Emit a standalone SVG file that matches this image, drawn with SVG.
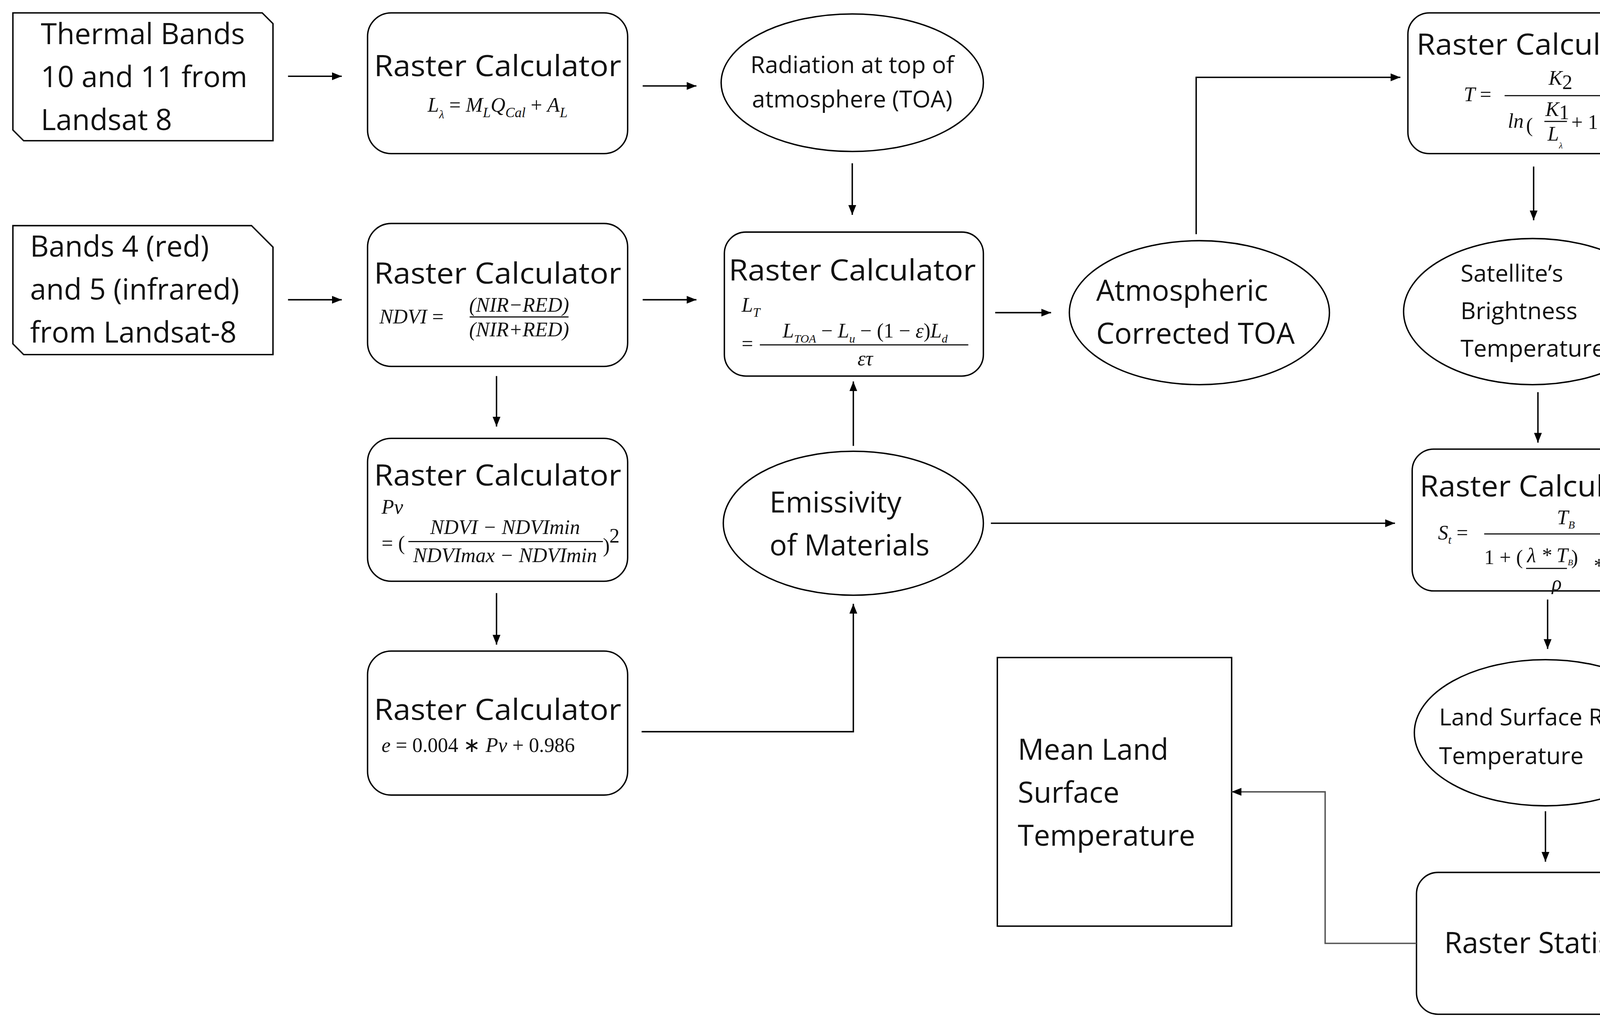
<svg xmlns="http://www.w3.org/2000/svg" width="4314" height="2624" viewBox="0 0 4314 2624">
<style>
.n{fill:#fff;stroke:#000;stroke-width:1.3}
.t{font-family:"Open Sans","Liberation Sans",sans-serif;font-size:27px;fill:#111}
.s{font-family:"Open Sans","Liberation Sans",sans-serif;font-size:22px;fill:#111}
.m{font-family:"Liberation Serif",serif;font-style:italic;font-size:19px;fill:#111}
.mr{font-family:"Liberation Serif",serif;font-style:normal;font-size:19px;fill:#111}
.c{fill:none;stroke:#000;stroke-width:1.3}
.c2{fill:none;stroke:#555;stroke-width:1.3}
.f{stroke:#000;stroke-width:1}
</style>
<defs>
<marker id="a" viewBox="0 0 10 10" refX="10" refY="5" markerWidth="7" markerHeight="7" orient="auto"><path d="M0,1 L10,5 L0,9 Z" fill="#000"/></marker>
</defs>
<rect width="4314" height="2624" fill="#fff"/>
<g transform="scale(2.7513,2.7505)">
<g id="thermal"><path class="n" d="M12,12 H244 L254,22 V131 H22 L12,121 Z"/>
<text class="t" x="38" y="41">Thermal Bands</text><text class="t" x="38" y="81">10 and 11 from</text><text class="t" x="38" y="121">Landsat 8</text></g>
<g id="bands45"><path class="n" d="M12,210 H234 L254,230 V330 H22 L12,320 Z"/>
<text class="t" x="28" y="239">Bands 4 (red)</text><text class="t" x="28" y="279">and 5 (infrared)</text><text class="t" x="28" y="319">from Landsat-8</text></g>
<g id="rc1"><rect class="n" x="342" y="12" width="242" height="131" rx="22"/>
<text class="t" x="463" y="71" text-anchor="middle" textLength="230" lengthAdjust="spacingAndGlyphs">Raster Calculator</text>
<text class="m" x="463" y="104" text-anchor="middle">L<tspan font-size="11" dy="6">λ</tspan><tspan class="mr" dy="-6"> = </tspan>M<tspan font-size="13" dy="5">L</tspan><tspan dy="-5">Q</tspan><tspan font-size="13" dy="5">Cal</tspan><tspan class="mr" dy="-5"> + </tspan>A<tspan font-size="13" dy="5">L</tspan></text></g>
<g id="radiation"><ellipse class="n" cx="793" cy="77" rx="122" ry="64"/>
<text class="s" x="793" y="68" text-anchor="middle">Radiation at top of</text><text class="s" x="793" y="100" text-anchor="middle">atmosphere (TOA)</text></g>
<g id="rc2"><rect class="n" x="342" y="208" width="242" height="133" rx="22"/>
<text class="t" x="463" y="264" text-anchor="middle" textLength="230" lengthAdjust="spacingAndGlyphs">Raster Calculator</text>
<text class="m" x="353" y="301" font-size="16">NDVI <tspan class="mr">=</tspan></text>
<text class="m" x="483" y="290" font-size="13" text-anchor="middle">(NIR−RED)</text>
<line class="f" x1="437" y1="295" x2="529" y2="295" stroke-width="0.8"/>
<text class="m" x="483" y="313" font-size="13" text-anchor="middle">(NIR+RED)</text></g>
<g id="rcLT"><rect class="n" x="674" y="216" width="241" height="134" rx="20"/>
<text class="t" x="793" y="261" text-anchor="middle" textLength="230" lengthAdjust="spacingAndGlyphs">Raster Calculator</text>
<text class="m" x="690" y="290" font-size="17">L<tspan font-size="12" dy="5">T</tspan></text>
<text class="mr" x="690" y="326" font-size="17">=</text>
<text class="m" x="805" y="314" font-size="17" text-anchor="middle">L<tspan font-size="11" dy="5">TOA</tspan><tspan class="mr" dy="-5"> − </tspan>L<tspan font-size="11" dy="5">u</tspan><tspan class="mr" dy="-5"> − (1 − </tspan>ε<tspan class="mr">)</tspan>L<tspan font-size="11" dy="5">d</tspan></text>
<line class="f" x1="707" y1="321" x2="901" y2="321"/>
<text class="m" x="805" y="340" font-size="17" text-anchor="middle">ετ</text></g>
<g id="atmos"><ellipse class="n" cx="1116" cy="291" rx="121" ry="67"/>
<text class="t" x="1020" y="280">Atmospheric</text><text class="t" x="1020" y="320">Corrected TOA</text></g>
<g id="rcT"><rect class="n" x="1310" y="12" width="241" height="131" rx="20"/>
<text class="t" x="1431" y="51" text-anchor="middle" textLength="226" lengthAdjust="spacingAndGlyphs">Raster Calculator</text>
<text class="m" x="1362" y="94" font-size="17">T <tspan class="mr">=</tspan></text>
<text class="m" x="1452" y="79" font-size="17" text-anchor="middle">K<tspan class="mr" font-size="12" dy="4">2</tspan></text>
<line class="f" x1="1400" y1="89" x2="1510" y2="89"/>
<text class="m" x="1403" y="119" font-size="17">ln</text>
<text class="mr" x="1420" y="123" font-size="30">(</text>
<text class="m" x="1438" y="108" font-size="16">K<tspan class="mr" font-size="12" dy="3">1</tspan></text>
<line class="f" x1="1437" y1="113" x2="1458" y2="113"/>
<text class="m" x="1440" y="131" font-size="16">L<tspan font-size="8" dy="7">λ</tspan></text>
<text class="mr" x="1462" y="120" font-size="17">+ 1</text>
<text class="mr" x="1496" y="123" font-size="30">)</text></g>
<g id="satellite"><ellipse class="n" cx="1426" cy="290" rx="120" ry="68"/>
<text class="s" x="1359" y="262" font-size="23">Satellite’s</text><text class="s" x="1359" y="297" font-size="23">Brightness</text><text class="s" x="1359" y="332" font-size="23">Temperature</text></g>
<g id="rcPv"><rect class="n" x="342" y="408" width="242" height="133" rx="22"/>
<text class="t" x="463" y="452" text-anchor="middle" textLength="230" lengthAdjust="spacingAndGlyphs">Raster Calculator</text>
<text class="m" x="355" y="478" font-size="14">Pv</text>
<text class="mr" x="355" y="512" font-size="15">= (</text>
<text class="m" x="470" y="497" font-size="15" text-anchor="middle">NDVI − NDVImin</text>
<line class="f" x1="380" y1="504" x2="561" y2="504" stroke-width="0.8"/>
<text class="m" x="470" y="523" font-size="15" text-anchor="middle">NDVImax − NDVImin</text>
<text class="mr" x="561" y="514" font-size="15">)</text><text class="mr" x="567" y="505" font-size="10">2</text></g>
<g id="emiss"><ellipse class="n" cx="794" cy="487" rx="121" ry="67"/>
<text class="t" x="716" y="477">Emissivity</text><text class="t" x="716" y="517">of Materials</text></g>
<g id="rcSt"><rect class="n" x="1314" y="418" width="242" height="132" rx="20"/>
<text class="t" x="1434" y="462" text-anchor="middle" textLength="226" lengthAdjust="spacingAndGlyphs">Raster Calculator</text>
<text class="m" x="1338" y="502" font-size="17">S<tspan font-size="11" dy="4">t</tspan><tspan class="mr" dy="-4"> =</tspan></text>
<text class="m" x="1457" y="488" font-size="16" text-anchor="middle">T<tspan font-size="10" dy="4">B</tspan></text>
<line class="f" x1="1381" y1="497" x2="1534" y2="497"/>
<text class="mr" x="1381" y="525" font-size="17">1 + (</text>
<text class="m" x="1421" y="523" font-size="12">λ * T<tspan font-size="8" dy="3">B</tspan></text>
<line class="f" x1="1420" y1="529" x2="1458" y2="529" stroke-width="0.8"/>
<text class="mr" x="1462" y="525" font-size="17">)</text>
<text class="mr" x="1483" y="533" font-size="9">*  1n(ε)</text>
<text class="m" x="1444" y="549" font-size="9">ρ</text></g>
<g id="rcE"><rect class="n" x="342" y="606" width="242" height="134" rx="22"/>
<text class="t" x="463" y="670" text-anchor="middle" textLength="230" lengthAdjust="spacingAndGlyphs">Raster Calculator</text>
<text class="m" x="355" y="700" font-size="18">e <tspan class="mr">= 0.004 ∗ </tspan>Pv<tspan class="mr"> + 0.986</tspan></text></g>
<g id="land"><ellipse class="n" cx="1438" cy="682" rx="122" ry="68"/>
<text class="s" x="1339" y="675" font-size="23">Land Surface  Real</text><text class="s" x="1339" y="711" font-size="23">Temperature</text></g>
<g id="stats"><rect class="n" x="1318" y="812" width="241" height="132" rx="20"/>
<text class="t" x="1443" y="887" text-anchor="middle">Raster Statistics</text></g>
<g id="mean"><rect class="n" x="928" y="612" width="218" height="250"/>
<text class="t" x="947" y="707">Mean Land</text><text class="t" x="947" y="747">Surface</text><text class="t" x="947" y="787">Temperature</text></g>
<g id="connectors">
<line class="c" x1="268" y1="71" x2="318" y2="71" marker-end="url(#a)"/>
<line class="c" x1="598" y1="80" x2="648" y2="80" marker-end="url(#a)"/>
<line class="c" x1="793" y1="152" x2="793" y2="200" marker-end="url(#a)"/>
<line class="c" x1="268" y1="279" x2="318" y2="279" marker-end="url(#a)"/>
<line class="c" x1="598" y1="279" x2="648" y2="279" marker-end="url(#a)"/>
<line class="c" x1="926" y1="291" x2="978" y2="291" marker-end="url(#a)"/>
<polyline class="c" points="1113,218 1113,72 1303,72" marker-end="url(#a)"/>
<line class="c" x1="1427" y1="155" x2="1427" y2="205" marker-end="url(#a)"/>
<line class="c" x1="1431" y1="365" x2="1431" y2="412" marker-end="url(#a)"/>
<line class="c" x1="1440" y1="558" x2="1440" y2="604" marker-end="url(#a)"/>
<line class="c" x1="1438" y1="755" x2="1438" y2="802" marker-end="url(#a)"/>
<polyline class="c2" points="1318,878 1233,878 1233,737 1146,737" marker-end="url(#a)"/>
<line class="c" x1="462" y1="350" x2="462" y2="397" marker-end="url(#a)"/>
<line class="c" x1="462" y1="552" x2="462" y2="600" marker-end="url(#a)"/>
<line class="c" x1="794" y1="415" x2="794" y2="355" marker-end="url(#a)"/>
<line class="c" x1="922" y1="487" x2="1298" y2="487" marker-end="url(#a)"/>
<polyline class="c" points="597,681 794,681 794,562" marker-end="url(#a)"/>
</g>
</g>
</svg>
